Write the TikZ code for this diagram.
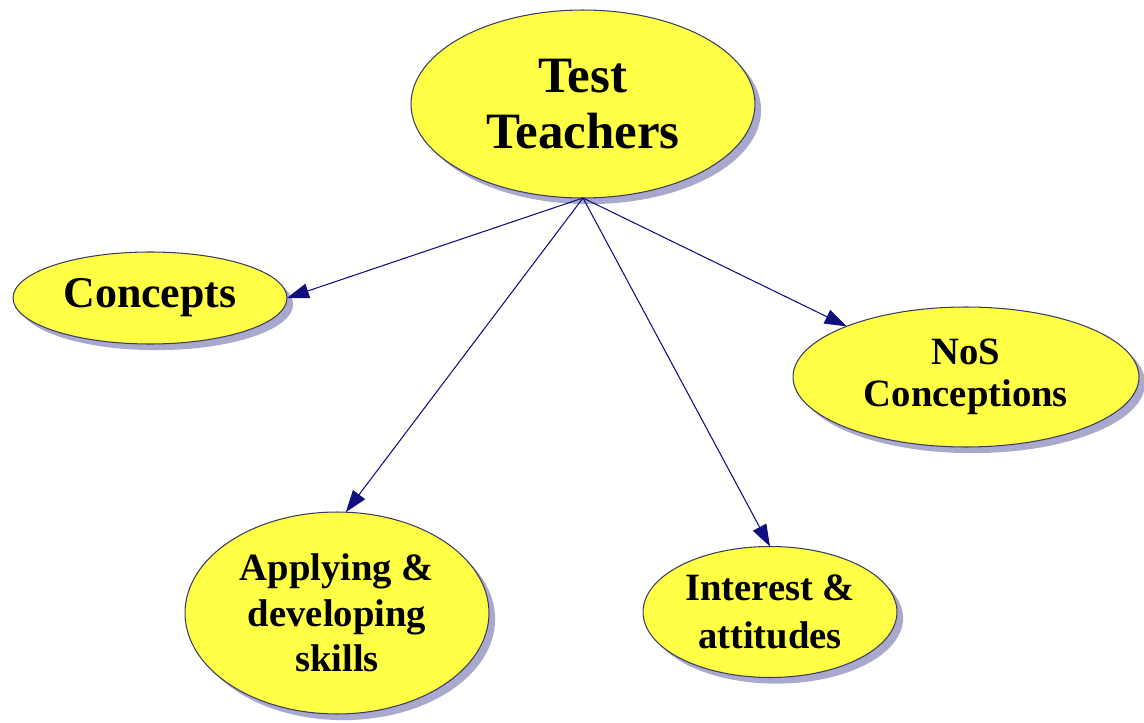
\documentclass[tikz,border=0pt]{standalone}
\usepackage{fontspec}
\setmainfont{Liberation Serif}
\usetikzlibrary{shapes.geometric,arrows.meta,shadows}
\definecolor{bubble}{RGB}{255,255,70}
\definecolor{rim}{RGB}{60,60,95}
\definecolor{linkblue}{RGB}{15,15,125}
\definecolor{shade}{RGB}{140,140,190}
\tikzset{
	topic/.style={
		ellipse,
		draw=rim,
		fill=bubble,
		line width=0.6pt,
		inner sep=1pt,
		outer sep=0pt,
		align=center,
		font=\bfseries\fontsize{22}{26}\selectfont,
		drop shadow={shadow xshift=3.5pt,shadow yshift=-3.5pt,fill=shade,opacity=0.75}
	},
	relation/.style={
		draw=linkblue,
		line width=0.6pt,
		-{Triangle[length=0.44cm,width=0.3cm]}
	}
}
\begin{document}
\begin{tikzpicture}[x=0.02cm,y=-0.02cm]
	\useasboundingbox (0,0) rectangle (1144,723);
	\node[topic,minimum width=6.88cm,minimum height=3.76cm,
		font=\bfseries\fontsize{29}{32}\selectfont] (teachers) at (583,104) {Test\\Teachers};
	\node[topic,minimum width=5.48cm,minimum height=1.84cm,
		font=\bfseries\fontsize{25}{27}\selectfont] (concepts) at (150,298) {Concepts};
	\node[topic,minimum width=6.92cm,minimum height=2.8cm,
		font=\bfseries\fontsize{22}{24}\selectfont] (nos) at (966,377) {NoS\\Conceptions};
	\node[topic,minimum width=6.08cm,minimum height=4.04cm] (skills) at (337,613) {Applying \&\\developing\\skills};
	\node[topic,minimum width=5.08cm,minimum height=2.62cm,
		font=\bfseries\fontsize{22}{27}\selectfont] (attitudes) at (770,612) {Interest \&\\attitudes};
	% all links leave from the bottom of the top bubble
	\foreach \target/\side in {concepts/east,skills/85,attitudes/north,nos/157}
		\draw[relation] (teachers.south) -- (\target.\side);
\end{tikzpicture}
\end{document}
